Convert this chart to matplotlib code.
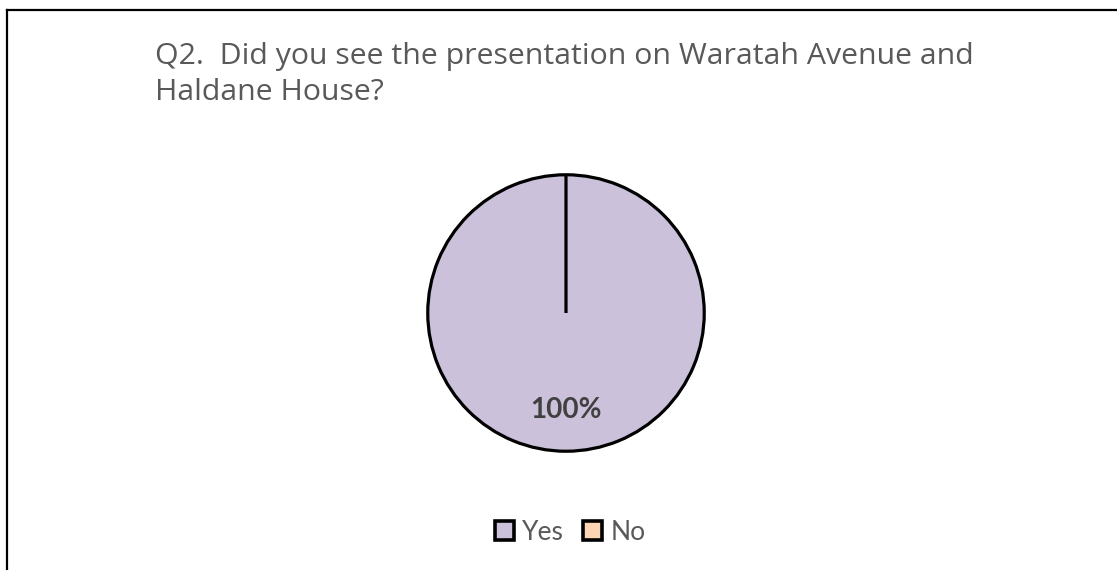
import matplotlib
matplotlib.use("Agg")
import matplotlib.pyplot as plt
from matplotlib.patches import Patch
from matplotlib.lines import Line2D

# Data
categories = ["Yes", "No"]
values = [100, 0]
colors = ["#CCC1DA", "#FCD5B5"]
title_lines = ["Q2.  Did you see the presentation on Waratah Avenue and",
               "Haldane House?"]

W, H = 1117, 570
fig = plt.figure(figsize=(W / 100, H / 100), dpi=100)
fig.patch.set_facecolor("white")

# outer frame (left and top edges visible)
fig.add_artist(Line2D([7 / W, 7 / W], [0, 1 - 10 / H], color="black", lw=1.6,
                      transform=fig.transFigure))
fig.add_artist(Line2D([7 / W, 1], [1 - 10 / H, 1 - 10 / H], color="black", lw=1.6,
                      transform=fig.transFigure))

tfont = ["Open Sans", "DejaVu Sans"]
font = ["Lato", "DejaVu Sans"]

# title
fig.text(155 / W, 1 - 64 / H, title_lines[0], fontsize=21.8, color="#595959",
         family=tfont, ha="left", va="baseline")
fig.text(155 / W, 1 - 100 / H, title_lines[1], fontsize=21.8, color="#595959",
         family=tfont, ha="left", va="baseline")

# pie
cx, cy, r = 566, 313, 141
ax = fig.add_axes([(cx - r) / W, (H - cy - r) / H, 2 * r / W, 2 * r / H])


def fmt(p):
    return f"{p:.0f}%" if p > 0 else ""


wedges, texts, autotexts = ax.pie(
    values, colors=colors, startangle=90, counterclock=False,
    autopct=fmt, pctdistance=0.70,
    wedgeprops=dict(edgecolor="black", linewidth=2.3),
    textprops=dict(fontsize=20, fontweight="bold", color="#404040", family=font),
)
ax.set_xlim(-1.02, 1.02)
ax.set_ylim(-1.02, 1.02)
ax.set_aspect("equal")
ax.axis("off")

# legend
handles = [Patch(facecolor=c, edgecolor="black", linewidth=2.6) for c in colors]
fig.legend(handles, categories, loc="center", bbox_to_anchor=(570 / W, 1 - 532 / H),
           ncol=2, frameon=False, handlelength=0.75, handleheight=0.75,
           handletextpad=0.3, columnspacing=0.7,
           prop=dict(family=font, size=19), labelcolor="#595959")

fig.savefig("out.png", dpi=100, facecolor="white")
